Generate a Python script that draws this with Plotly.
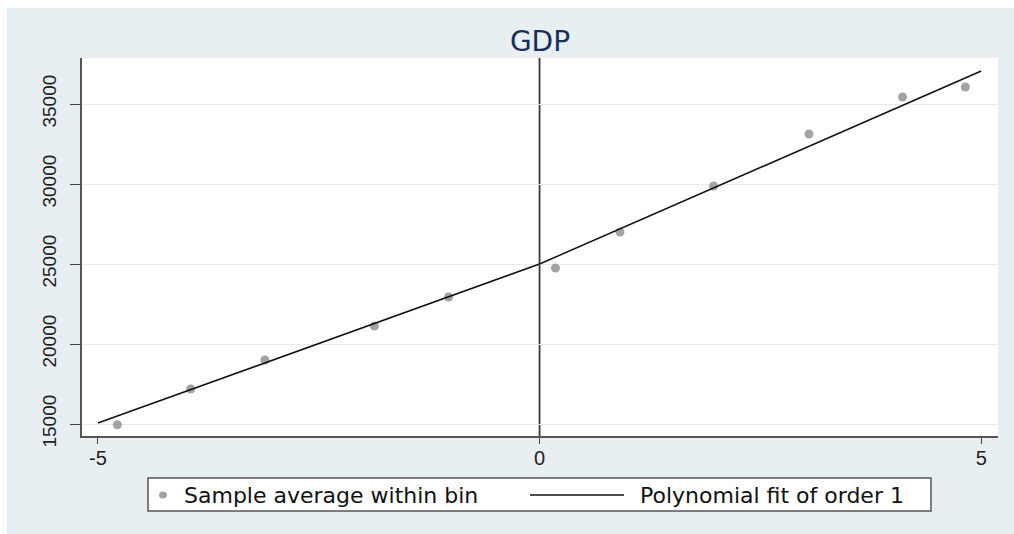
import plotly.graph_objects as go

# ---- data ----
bin_x = [-4.78, -3.95, -3.11, -1.87, -1.03, 0.18, 0.91, 1.97, 3.05, 4.11, 4.82]
bin_y = [14950, 17190, 19000, 21125, 22940, 24750, 27000, 29875, 33125, 35440, 36060]
fit_left_x = [-5, 0]
fit_left_y = [15060, 25000]
fit_right_x = [0, 5]
fit_right_y = [25000, 37060]
cutoff = 0
x_ticks = [-5, 0, 5]
y_ticks = [15000, 20000, 25000, 30000, 35000]
title_text = "GDP"
legend_points = "Sample average within bin"
legend_fit = "Polynomial fit of order 1"

BG = "#e8eff2"
FONT = "Liberation Sans, Arial, Helvetica, sans-serif"
WFONT = "DejaVu Sans, Liberation Sans, Arial, sans-serif"
DOT = "#a3a3a3"

# plot-area geometry (pixels)
L, R, T, B = 82, 998, 58, 436
PW, PH = R - L, B - T


def px(xp):
    return (xp - L) / PW


def py(yp):
    return (B - yp) / PH


fig = go.Figure()
fig.add_trace(go.Scatter(
    x=bin_x, y=bin_y, mode="markers", name=legend_points,
    marker=dict(color=DOT, size=9, line=dict(width=0)),
))
fig.add_trace(go.Scatter(
    x=fit_left_x, y=fit_left_y, mode="lines", name=legend_fit,
    line=dict(color="#111111", width=1.5),
))
fig.add_trace(go.Scatter(
    x=fit_right_x, y=fit_right_y, mode="lines", name=legend_fit,
    line=dict(color="#111111", width=1.5),
))

fig.add_shape(type="line", xref="x", yref="paper", x0=cutoff, x1=cutoff, y0=0, y1=1,
              line=dict(color="#3a3a3a", width=1.8), layer="below")
# white outer border strips (left & top)
fig.add_shape(type="rect", xref="paper", yref="paper",
              x0=px(-20), x1=px(7), y0=py(600), y1=py(-20),
              fillcolor="white", line=dict(width=0), layer="below")
fig.add_shape(type="rect", xref="paper", yref="paper",
              x0=px(-20), x1=px(1040), y0=py(8), y1=py(-20),
              fillcolor="white", line=dict(width=0), layer="below")

# legend (Stata-style, drawn manually)
LY = 495
fig.add_shape(type="rect", xref="paper", yref="paper",
              x0=px(148), x1=px(931), y0=py(511), y1=py(478),
              fillcolor="white", line=dict(color="#555555", width=1.5))
fig.add_shape(type="circle", xref="paper", yref="paper",
              xsizemode="pixel", ysizemode="pixel",
              xanchor=px(163), yanchor=py(LY), x0=-4, x1=4, y0=-3.5, y1=3.5,
              fillcolor=DOT, line=dict(width=0))
fig.add_shape(type="line", xref="paper", yref="paper",
              x0=px(530), x1=px(624), y0=py(LY), y1=py(LY),
              line=dict(color="#111111", width=1.5))
fig.add_annotation(xref="paper", yref="paper", x=px(182), y=py(LY),
                   xanchor="left", yanchor="middle", showarrow=False,
                   text=legend_points, font=dict(family=WFONT, size=22, color="#111111"))
fig.add_annotation(xref="paper", yref="paper", x=px(638), y=py(LY),
                   xanchor="left", yanchor="middle", showarrow=False,
                   text=legend_fit, font=dict(family=WFONT, size=22, color="#111111"))

fig.update_layout(
    width=1014, height=534,
    margin=dict(l=L, r=1014 - R, t=T, b=534 - B),
    paper_bgcolor=BG, plot_bgcolor="white",
    font=dict(family=FONT, color="#222222", size=19),
    showlegend=False,
    title=dict(text=title_text, x=0.5, xref="paper", xanchor="center",
               y=1 - 41.5 / 534, yanchor="middle",
               font=dict(family=WFONT, size=28, color="#1a2e5a")),
    xaxis=dict(range=[-5.18, 5.19], tickvals=x_ticks, ticktext=[str(v) for v in x_ticks],
               ticks="outside", ticklen=6, ticklabelstandoff=-3,
               tickcolor="#444444", showline=True, linecolor="#555555", linewidth=1.8,
               showgrid=False, zeroline=False, tickfont=dict(size=20)),
    yaxis=dict(range=[14250, 37875], tickvals=y_ticks, ticktext=[str(v) for v in y_ticks],
               ticks="outside", ticklen=10, ticklabelstandoff=7,
               tickcolor="#444444", showline=True, linecolor="#555555", linewidth=1.8,
               showgrid=True, gridcolor="#e4ecef", gridwidth=1, zeroline=False,
               tickangle=-90, tickfont=dict(size=19)),
)

fig.write_html("out.html")
